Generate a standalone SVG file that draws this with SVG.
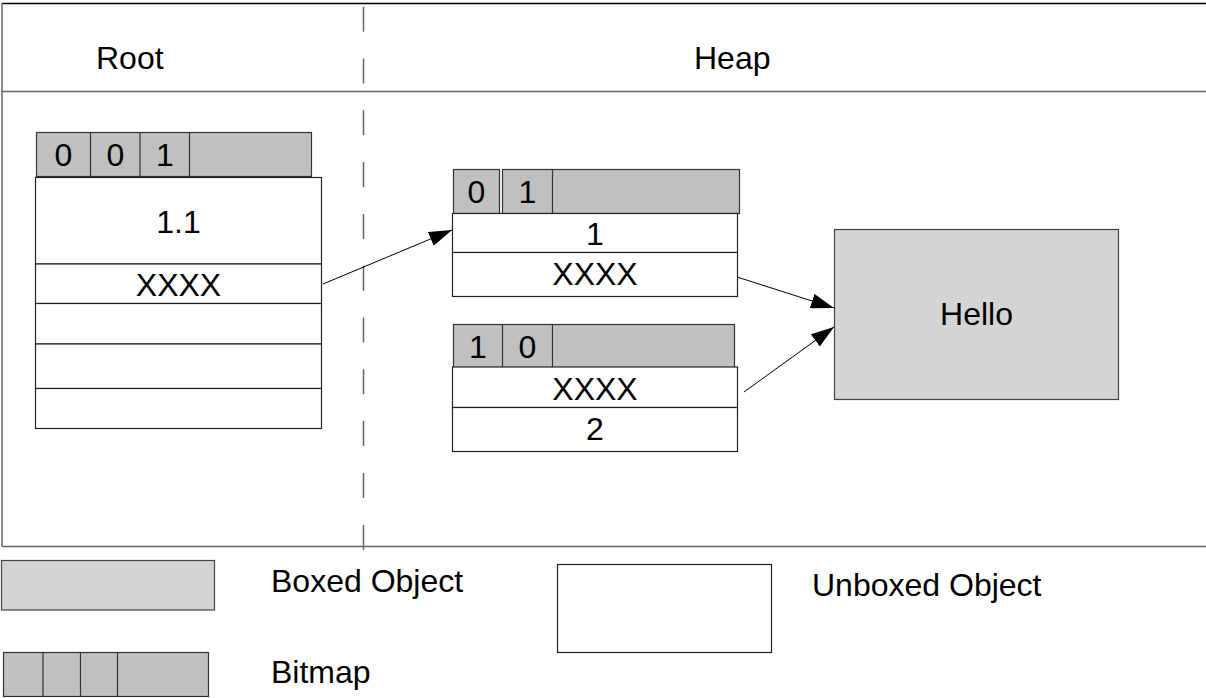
<svg xmlns="http://www.w3.org/2000/svg" width="1206" height="698" viewBox="0 0 1206 698">
<defs>
<style>
text{font-family:"Liberation Sans",Arial,sans-serif;font-size:32px;fill:#000;}
.c{text-anchor:middle;}
.frame{stroke:#666;stroke-width:1.5;fill:none;}
.bm{fill:#c0c0c0;stroke:#333;stroke-width:1.2;}
.cell{fill:#fff;stroke:#222;stroke-width:1.2;}
.boxed{fill:#d4d4d4;stroke:#444;stroke-width:1.2;}
.conn{stroke:#000;stroke-width:1;fill:none;marker-end:url(#ah);}
</style>
<marker id="ah" markerWidth="23" markerHeight="15" refX="23" refY="7.5" orient="auto" markerUnits="userSpaceOnUse">
<path d="M0,0 L23,7.5 L0,15 Z" fill="#000"/>
</marker>
</defs>
<rect width="1206" height="698" fill="#fff"/>
<g id="frame">
<line x1="2" y1="3.5" x2="1206" y2="3.5" stroke="#000" stroke-width="1.5"/>
<line x1="2" y1="3" x2="2" y2="546.5" class="frame"/>
<line x1="2" y1="91.5" x2="1206" y2="91.5" class="frame"/>
<line x1="2" y1="546.5" x2="1206" y2="546.5" class="frame"/>
<line x1="363.5" y1="6.7" x2="363.5" y2="550" stroke="#666" stroke-width="1.5" stroke-dasharray="25 26.8"/>
<text x="96" y="69">Root</text>
<text x="694" y="69">Heap</text>
</g>
<g id="root-object">
<rect x="36.5" y="132.5" width="275" height="44" class="bm"/>
<line x1="90.5" y1="132.5" x2="90.5" y2="176.5" stroke="#333" stroke-width="1.2"/>
<line x1="140" y1="132.5" x2="140" y2="176.5" stroke="#333" stroke-width="1.2"/>
<line x1="189.5" y1="132.5" x2="189.5" y2="176.5" stroke="#333" stroke-width="1.2"/>
<text x="63.5" y="166" class="c">0</text>
<text x="115.5" y="166" class="c">0</text>
<text x="165" y="166" class="c">1</text>
<rect x="35.5" y="177.5" width="286" height="86.5" class="cell"/>
<rect x="35.5" y="264" width="286" height="39.5" class="cell"/>
<rect x="35.5" y="303.5" width="286" height="40.5" class="cell"/>
<rect x="35.5" y="344" width="286" height="44.5" class="cell"/>
<rect x="35.5" y="388.5" width="286" height="40" class="cell"/>
<text x="178.5" y="233" class="c">1.1</text>
<text x="178.5" y="296" class="c">XXXX</text>
</g>
<g id="heap-object-1">
<rect x="453.5" y="169.5" width="46" height="44" class="bm"/>
<rect x="502.5" y="169.5" width="237" height="44" class="bm"/>
<line x1="552.5" y1="169.5" x2="552.5" y2="213.5" stroke="#333" stroke-width="1.2"/>
<text x="476.5" y="203" class="c">0</text>
<text x="527.5" y="203" class="c">1</text>
<rect x="452.5" y="213.5" width="285" height="39" class="cell"/>
<rect x="452.5" y="252.5" width="285" height="44" class="cell"/>
<text x="595" y="245" class="c">1</text>
<text x="595" y="285" class="c">XXXX</text>
</g>
<g id="heap-object-2">
<rect x="453.5" y="324.5" width="281" height="44" class="bm"/>
<line x1="502.5" y1="324.5" x2="502.5" y2="368.5" stroke="#333" stroke-width="1.2"/>
<line x1="552.5" y1="324.5" x2="552.5" y2="368.5" stroke="#333" stroke-width="1.2"/>
<text x="478" y="358" class="c">1</text>
<text x="527.5" y="358" class="c">0</text>
<rect x="452.5" y="367" width="285" height="40.5" class="cell"/>
<rect x="452.5" y="407.5" width="285" height="44" class="cell"/>
<text x="595" y="400" class="c">XXXX</text>
<text x="595" y="440" class="c">2</text>
</g>
<g id="hello">
<rect x="834.5" y="229.5" width="284" height="170" class="boxed"/>
<text x="976.5" y="325" class="c">Hello</text>
</g>
<g id="connectors">
<line x1="323" y1="284" x2="452" y2="230" class="conn"/>
<line x1="737" y1="277" x2="834" y2="308" class="conn"/>
<line x1="744" y1="392" x2="834" y2="327" class="conn"/>
</g>
<g id="legend">
<rect x="1.5" y="560.5" width="213" height="49.5" class="boxed"/>
<text x="271" y="592">Boxed Object</text>
<rect x="557.5" y="564.5" width="214" height="88" class="cell"/>
<text x="812" y="596">Unboxed Object</text>
<rect x="3.5" y="652.5" width="205" height="44" class="bm"/>
<line x1="43" y1="652.5" x2="43" y2="696.5" stroke="#333" stroke-width="1.2"/>
<line x1="80.5" y1="652.5" x2="80.5" y2="696.5" stroke="#333" stroke-width="1.2"/>
<line x1="117.5" y1="652.5" x2="117.5" y2="696.5" stroke="#333" stroke-width="1.2"/>
<text x="271" y="683">Bitmap</text>
</g>
</svg>
